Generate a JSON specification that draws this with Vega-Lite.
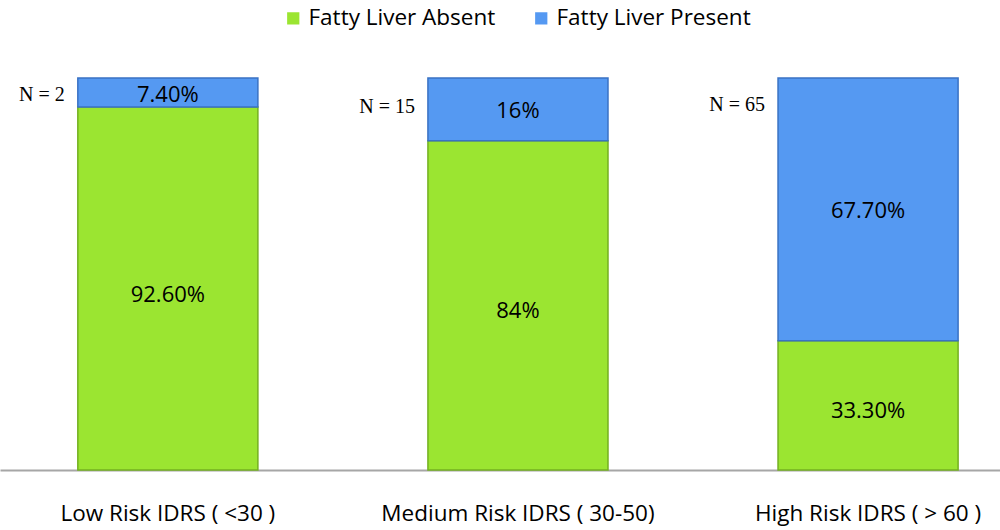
{
  "$schema": "https://vega.github.io/schema/vega-lite/v6.json",
  "width": 1000,
  "height": 392,
  "autosize": "none",
  "padding": {"top": 78, "left": 0, "right": 0, "bottom": 60},
  "background": "white",
  "config": {"view": {"stroke": null}, "font": "Open Sans"},
  "datasets": {
    "bars": [
      {"cat": "Low Risk IDRS ( <30 )", "status": "Fatty Liver Absent", "value": 92.6, "label": "92.60%"},
      {"cat": "Low Risk IDRS ( <30 )", "status": "Fatty Liver Present", "value": 7.4, "label": "7.40%"},
      {"cat": "Medium Risk IDRS ( 30-50)", "status": "Fatty Liver Absent", "value": 84, "label": "84%"},
      {"cat": "Medium Risk IDRS ( 30-50)", "status": "Fatty Liver Present", "value": 16, "label": "16%"},
      {"cat": "High Risk IDRS ( > 60 )", "status": "Fatty Liver Absent", "value": 33.3, "label": "33.30%"},
      {"cat": "High Risk IDRS ( > 60 )", "status": "Fatty Liver Present", "value": 67.7, "label": "67.70%"}
    ],
    "ns": [
      {"cat": "Low Risk IDRS ( <30 )", "n": "N = 2", "pos": 0.957},
      {"cat": "Medium Risk IDRS ( 30-50)", "n": "N = 15", "pos": 0.926},
      {"cat": "High Risk IDRS ( > 60 )", "n": "N = 65", "pos": 0.931}
    ]
  },
  "layer": [
    {
      "data": {"name": "bars"},
      "mark": {"type": "bar", "strokeWidth": 1.5},
      "encoding": {
        "x": {
          "field": "cat", "type": "nominal", "sort": null,
          "scale": {"paddingInner": 0.4857, "paddingOuter": 0.171, "align": 0.65},
          "axis": {"title": null, "labelAngle": 0, "ticks": false, "labelFontSize": 22.5, "labelColor": "#000000", "labelPadding": 32, "domainColor": "#A6A6A6", "domainWidth": 2, "labelFont": "Open Sans", "labelLimit": 0}
        },
        "y": {
          "field": "value", "type": "quantitative", "stack": "normalize",
          "scale": {"domain": [0, 1]},
          "axis": null
        },
        "order": {"field": "status"},
        "color": {
          "field": "status", "type": "nominal",
          "scale": {"domain": ["Fatty Liver Absent", "Fatty Liver Present"], "range": ["#9BE531", "#5599F2"]},
          "legend": {
            "title": null, "orient": "none", "direction": "horizontal",
            "legendX": 282, "legendY": -71,
            "symbolType": "square", "symbolSize": 150, "symbolStrokeWidth": 0,
            "labelFontSize": 22.5, "labelColor": "#000000", "columnPadding": 34, "labelOffset": 4, "labelLimit": 0
          }
        },
        "stroke": {
          "field": "status", "type": "nominal",
          "scale": {"domain": ["Fatty Liver Absent", "Fatty Liver Present"], "range": ["#74B020", "#3A72C4"]},
          "legend": null
        }
      }
    },
    {
      "data": {"name": "bars"},
      "mark": {"type": "text", "fontSize": 22, "color": "#000000", "dy": 6},
      "encoding": {
        "x": {"field": "cat", "type": "nominal", "sort": null},
        "y": {"field": "value", "type": "quantitative", "stack": "normalize", "bandPosition": 0.5},
        "detail": {"field": "status", "type": "nominal"},
        "order": {"field": "status"},
        "text": {"condition": {"test": "datum.status === 'Fatty Liver Absent'", "field": "label"}, "value": ""}
      }
    },
    {
      "data": {"name": "bars"},
      "mark": {"type": "text", "fontSize": 22, "color": "#000000", "dy": 2},
      "encoding": {
        "x": {"field": "cat", "type": "nominal", "sort": null},
        "y": {"field": "value", "type": "quantitative", "stack": "normalize", "bandPosition": 0.5},
        "detail": {"field": "status", "type": "nominal"},
        "order": {"field": "status"},
        "text": {"condition": {"test": "datum.status === 'Fatty Liver Present'", "field": "label"}, "value": ""}
      }
    },
    {
      "data": {"name": "ns"},
      "mark": {"type": "text", "fontSize": 20, "font": "Liberation Serif", "align": "right", "dx": -13, "color": "#000000"},
      "encoding": {
        "x": {"field": "cat", "type": "nominal", "sort": null, "bandPosition": 0},
        "y": {"field": "pos", "type": "quantitative"},
        "text": {"field": "n", "type": "nominal"}
      }
    }
  ]
}
